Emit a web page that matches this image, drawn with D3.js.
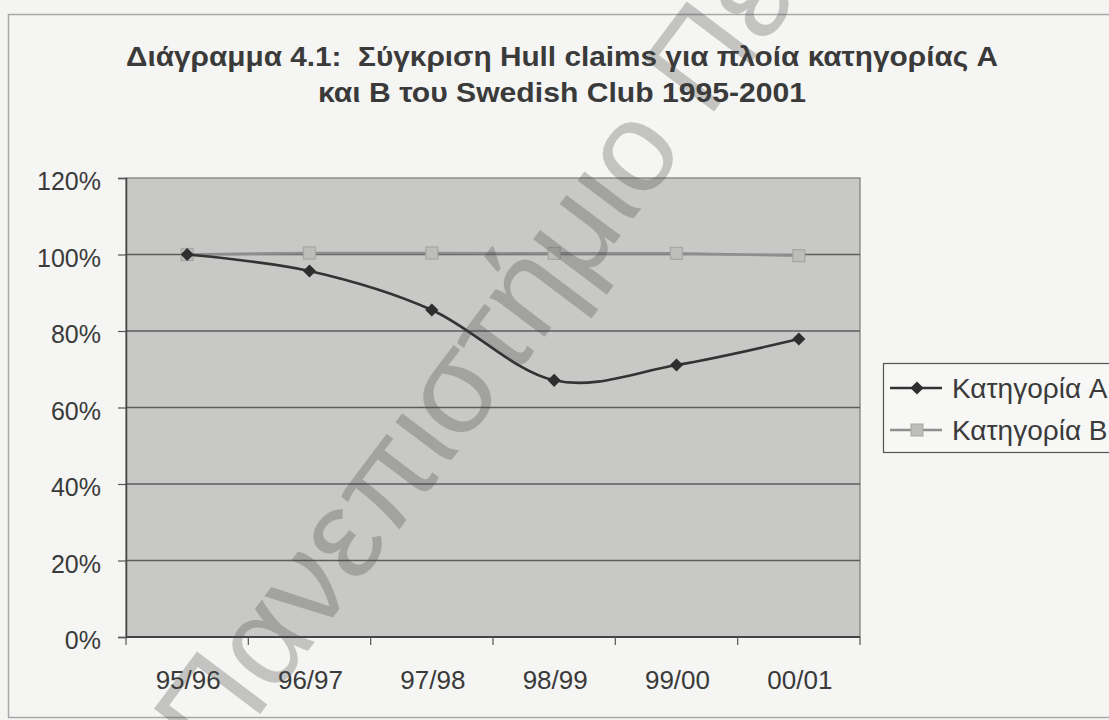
<!DOCTYPE html>
<html lang="el">
<head>
<meta charset="UTF-8">
<title>Διάγραμμα 4.1</title>
<script src="https://cdn.jsdelivr.net/npm/d3@7"></script>
<style>
	body{
		margin: 0px;
		background: #f4f4f2;
	}
	text{
		font-family: "Liberation Sans", Arial, sans-serif;
		fill: #3a3a3a;
	}
</style>
</head>
<body>
<svg></svg>
<script>
var categories = ["95/96", "96/97", "97/98", "98/99", "99/00", "00/01"];
var seriesA = [1.00, 0.957, 0.855, 0.671, 0.711, 0.779];
var seriesB = [1.00, 1.004, 1.004, 1.003, 1.003, 0.997];
var seriesNames = ["Κατηγορία A", "Κατηγορία B"];
var yTicks = [0, 0.2, 0.4, 0.6, 0.8, 1.0, 1.2];
var titleLines = ["Διάγραμμα 4.1:  Σύγκριση Hull claims για πλοία κατηγορίας A",
	"και B του Swedish Club 1995-2001"];
var watermark = "Πανεπιστήμιο Πειραιώς";

var w = 1109, h = 720;
var svg = d3.select("svg").attr("width", w).attr("height", h);

// outer chart frame
svg.append("rect")
	.attr("x", 8.5).attr("y", 14.5)
	.attr("width", 1120).attr("height", 703)
	.attr("fill", "#f5f5f3").attr("stroke", "#a8a8a8").attr("stroke-width", 1.5);

// title
svg.selectAll(".title")
	.data(titleLines)
	.enter().append("text")
	.attr("class", "title")
	.attr("x", 562)
	.attr("y", (d, i) => 66 + i * 36)
	.attr("text-anchor", "middle")
	.attr("font-size", 27)
	.attr("font-weight", "bold")
	.style("white-space", "pre")
	.attr("textLength", (d, i) => i == 0 ? 872 : 488)
	.attr("lengthAdjust", "spacingAndGlyphs")
	.text(d => d);

var pLeft = 126, pRight = 860, pTop = 178, pBottom = 637;

var x = d3.scaleBand().domain(categories).range([pLeft, pRight]);
var y = d3.scaleLinear().domain([0, 1.2]).range([pBottom, pTop]);

// plot area
svg.append("rect")
	.attr("x", pLeft).attr("y", pTop)
	.attr("width", pRight - pLeft).attr("height", pBottom - pTop)
	.attr("fill", "#c8c8c6").attr("stroke", "#7a7a7a").attr("stroke-width", 1.2);

// gridlines
svg.append("g")
	.selectAll("line")
	.data(yTicks.slice(1, -1))
	.enter().append("line")
	.attr("x1", pLeft).attr("x2", pRight)
	.attr("y1", d => y(d)).attr("y2", d => y(d))
	.attr("stroke", "#5c5c5c").attr("stroke-width", 1.3);

// y axis
var yAxis = svg.append("g")
	.attr("transform", "translate(" + pLeft + ",0)")
	.call(d3.axisLeft(y).tickValues(yTicks).tickFormat(d3.format(".0%")).tickSize(8).tickPadding(17));
yAxis.select(".domain").attr("stroke", "#444").attr("stroke-width", 1.5);
yAxis.selectAll(".tick line").attr("stroke", "#555").attr("stroke-width", 1.2);
yAxis.selectAll(".tick text")
	.attr("font-size", 25).attr("font-family", "Liberation Sans, Arial, sans-serif")
	.attr("fill", "#3a3a3a").attr("dy", "0.46em");

// x axis, ticks between categories
var xAxis = svg.append("g")
	.attr("transform", "translate(0," + pBottom + ")");
xAxis.append("line")
	.attr("x1", pLeft).attr("x2", pRight)
	.attr("stroke", "#444").attr("stroke-width", 1.8);
xAxis.selectAll(".xt")
	.data(categories)
	.enter().append("line")
	.attr("class", "xt")
	.attr("x1", d => x(d) + x.bandwidth()).attr("x2", d => x(d) + x.bandwidth())
	.attr("y1", 0).attr("y2", 8)
	.attr("stroke", "#555").attr("stroke-width", 1.2);
xAxis.append("line")
	.attr("x1", pLeft).attr("x2", pLeft).attr("y1", 0).attr("y2", 8)
	.attr("stroke", "#555").attr("stroke-width", 1.2);
xAxis.selectAll(".xl")
	.data(categories)
	.enter().append("text")
	.attr("class", "xl")
	.attr("x", d => x(d) + x.bandwidth() / 2 + 1)
	.attr("y", 52)
	.attr("text-anchor", "middle")
	.attr("font-size", 26)
	.text(d => d);

var cx = (d, i) => x(categories[i]) + x.bandwidth() / 2;

// series B
var lineB = d3.line().x(cx).y(d => y(d));
svg.append("path")
	.datum(seriesB)
	.attr("d", lineB)
	.attr("fill", "none").attr("stroke", "#8e8e8e").attr("stroke-width", 2.6);
svg.selectAll(".mb")
	.data(seriesB)
	.enter().append("rect")
	.attr("class", "mb")
	.attr("x", (d, i) => cx(d, i) - 6).attr("y", d => y(d) - 6)
	.attr("width", 12).attr("height", 12)
	.attr("fill", "#bdbdbb").attr("stroke", "#a6a6a4").attr("stroke-width", 1.2);

// series A, smoothed
var lineA = d3.line().x(cx).y(d => y(d)).curve(d3.curveCardinal.tension(0));
svg.append("path")
	.datum(seriesA)
	.attr("d", lineA)
	.attr("fill", "none").attr("stroke", "#333").attr("stroke-width", 2.6);
var diamond = d3.symbol().type(d3.symbolDiamond2).size(110);
svg.selectAll(".ma")
	.data(seriesA)
	.enter().append("path")
	.attr("class", "ma")
	.attr("transform", (d, i) => "translate(" + cx(d, i) + "," + y(d) + ")")
	.attr("d", diamond)
	.attr("fill", "#2e2e2e");

// legend
var lg = svg.append("g").attr("transform", "translate(883,363)");
lg.append("rect")
	.attr("x", 0.5).attr("y", 0.5).attr("width", 260).attr("height", 89)
	.attr("fill", "#f7f7f5").attr("stroke", "#555").attr("stroke-width", 1.2);
var items = lg.selectAll(".li")
	.data(seriesNames)
	.enter().append("g")
	.attr("class", "li")
	.attr("transform", (d, i) => "translate(0," + (25 + i * 42) + ")");
items.append("line")
	.attr("x1", 7).attr("x2", 59)
	.attr("stroke", (d, i) => i == 0 ? "#333" : "#8e8e8e").attr("stroke-width", 2.4);
items.filter((d, i) => i == 0).append("path")
	.attr("transform", "translate(34,0)")
	.attr("d", diamond)
	.attr("fill", "#2e2e2e");
items.filter((d, i) => i == 1).append("rect")
	.attr("x", 28).attr("y", -6).attr("width", 12).attr("height", 12)
	.attr("fill", "#bdbdbb").attr("stroke", "#a6a6a4");
items.append("text")
	.attr("x", 69).attr("y", 10)
	.attr("font-size", 28)
	.attr("font-family", "Noto Sans, sans-serif")
	.text(d => d);

// scanned-page watermark
svg.append("text")
	.attr("transform", "translate(218,770) rotate(-53)")
	.attr("font-size", 128)
	.attr("font-family", "DejaVu Sans, sans-serif")
	.style("fill", "#444")
	.attr("opacity", 0.28)
	.text(watermark);
</script>
</body>
</html>
